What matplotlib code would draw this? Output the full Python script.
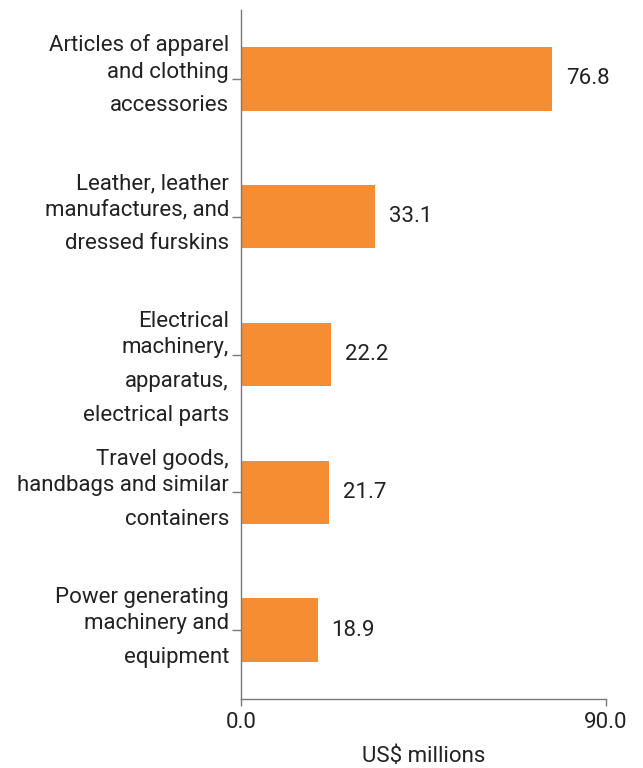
import matplotlib
matplotlib.use("Agg")
import matplotlib.pyplot as plt

categories = [
    "Articles of apparel\nand clothing\naccessories",
    "Leather, leather\nmanufactures, and\ndressed furskins",
    "Electrical\nmachinery,\napparatus,\nelectrical parts",
    "Travel goods,\nhandbags and similar\ncontainers",
    "Power generating\nmachinery and\nequipment",
]
values = [76.8, 33.1, 22.2, 21.7, 18.9]
xticks = [0.0, 90.0]
xlabel = "US$ millions"

plt.rcParams['font.family'] = ['Roboto', 'DejaVu Sans']
text_color = "#222222"
spine_color = "#7a7a7a"
bar_color = "#F68D33"
fs = 16

fig = plt.figure(figsize=(6.43, 7.68), dpi=100)
ax = fig.add_axes([241/643, 1 - 699/768, 365/643, 689/768])

y = list(range(len(categories)))
ax.barh(y, values, height=0.46, color=bar_color)
ax.set_ylim(len(categories) - 0.5, -0.5)
ax.set_xlim(0, 90)

for yi, v in zip(y, values):
    ax.annotate(f"{v:.1f}", (v, yi), xytext=(14, 0), textcoords="offset pixels",
                ha="left", va="center", fontsize=fs, color=text_color)

# category labels: line baselines relative to tick (pixels, downward)
line_offsets = [-26.5, 0.0, 33.5, 67.0]
for yi, lab in zip(y, categories):
    for k, line in enumerate(lab.split("\n")):
        ax.annotate(line, xy=(0, yi), xycoords=("axes fraction", "data"),
                    xytext=(-12, -line_offsets[k] + 1), textcoords="offset pixels",
                    ha="right", va="baseline", fontsize=fs, color=text_color,
                    annotation_clip=False)

ax.set_yticks(y)
ax.set_yticklabels([""] * len(y))
ax.set_xticks(xticks)
ax.set_xticklabels([f"{t:.1f}" for t in xticks], fontsize=fs, color=text_color)
ax.set_xlabel(xlabel, fontsize=fs, color=text_color, labelpad=10)

for s in ["top", "right"]:
    ax.spines[s].set_visible(False)
for s in ["left", "bottom"]:
    ax.spines[s].set_color(spine_color)
    ax.spines[s].set_linewidth(1.0)
ax.tick_params(axis="both", colors=spine_color, width=1.0, labelcolor=text_color)
ax.tick_params(axis="y", length=6.5)
ax.tick_params(axis="x", length=5, pad=4)

fig.savefig("out.png", dpi=100)
